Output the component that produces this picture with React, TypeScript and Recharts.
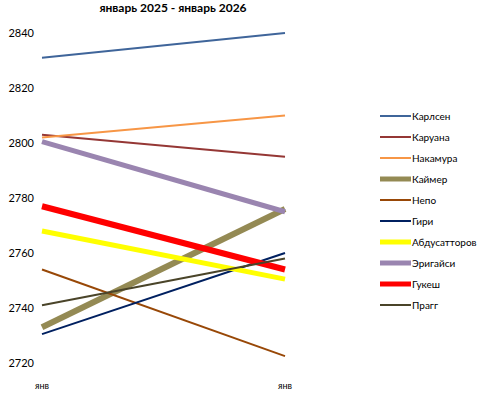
import { LineChart, Line, XAxis, YAxis } from "recharts"

const months = ["янв", "янв"]
const yTicks = [2720, 2740, 2760, 2780, 2800, 2820, 2840]

const carlsen = [2831, 2840]
const caruana = [2803, 2795]
const nakamura = [2802, 2810]
const keymer = [2733, 2776]
const nepo = [2754, 2722.5]
const giri = [2730.5, 2760]
const abdusattorov = [2768, 2750.5]
const erigaisi = [2800.5, 2775]
const gukesh = [2777, 2754]
const pragg = [2741, 2758]

const series = [
  { name: "Карлсен", values: carlsen, color: "#3f659a", width: 2 },
  { name: "Каруана", values: caruana, color: "#953735", width: 2 },
  { name: "Накамура", values: nakamura, color: "#f79646", width: 2 },
  { name: "Каймер", values: keymer, color: "#948a54", width: 6 },
  { name: "Непо", values: nepo, color: "#984807", width: 2 },
  { name: "Гири", values: giri, color: "#002060", width: 2 },
  { name: "Абдусатторов", values: abdusattorov, color: "#ffff00", width: 5 },
  { name: "Эригайси", values: erigaisi, color: "#9a85b0", width: 5 },
  { name: "Гукеш", values: gukesh, color: "#ff0000", width: 6 },
  { name: "Прагг", values: pragg, color: "#4a4429", width: 2 },
]

const FONT = "Lato, 'Open Sans', sans-serif"

const rows = months.map((m, i) => {
  const row: Record<string, unknown> = { idx: i, month: m }
  series.forEach((s) => {
    row[s.name] = s.values[i]
  })
  return row
})

// legend drawn by hand so it doesn't eat into the plot area
function LegendBox() {
  return (
    <div style={{ position: "absolute", left: 380, top: 105, fontFamily: FONT, fontSize: 10, color: "#000" }}>
      {series.map((s) => (
        <div key={s.name} style={{ display: "flex", alignItems: "center", height: 21 }}>
          <svg width={31} height={8} style={{ marginRight: 1 }}>
            <line x1={0} y1={4} x2={31} y2={4} stroke={s.color} strokeWidth={Math.min(s.width, 5)} />
          </svg>
          <span>{s.name}</span>
        </div>
      ))}
    </div>
  )
}

export default function App() {
  return (
    <div style={{ position: "absolute", left: 0, top: 0, width: 481, height: 396, background: "#fff" }}>
      <div
        style={{
          position: "absolute",
          left: 0,
          width: 346,
          top: 0,
          textAlign: "center",
          fontFamily: FONT,
          fontWeight: 700,
          fontSize: 12,
        }}
      >
        январь 2025 - январь 2026
      </div>
      <LineChart width={481} height={396} data={rows} margin={{ top: 33, right: 196, bottom: 0, left: 0 }}>
        <XAxis
          dataKey="idx"
          type="category"
          tickFormatter={(v) => months[v as number]}
          axisLine={false}
          tickLine={false}
          height={33}
          tickMargin={14}
          tick={{ fontSize: 9, fill: "#000", fontFamily: FONT }}
        />
        <YAxis
          domain={[2720, 2840]}
          ticks={yTicks}
          axisLine={false}
          tickLine={false}
          width={42}
          tick={{ fontSize: 11, fill: "#000", fontFamily: FONT }}
        />
        {series.map((s) => (
          <Line
            key={s.name}
            dataKey={s.name}
            stroke={s.color}
            strokeWidth={s.width}
            dot={false}
            activeDot={false}
            isAnimationActive={false}
          />
        ))}
      </LineChart>
      <LegendBox />
    </div>
  )
}
